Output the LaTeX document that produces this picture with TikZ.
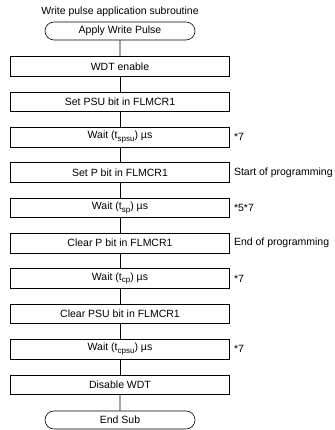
\documentclass[tikz,border=0pt]{standalone}
\usepackage{fontspec}
\setmainfont{Liberation Sans}
\usetikzlibrary{shapes.misc}
\newcommand{\tsub}[1]{\raisebox{-0.5ex}{\fontsize{8}{8}\selectfont #1}}

\begin{document}
\begin{tikzpicture}[x=1pt, y=1pt, node distance=35.36pt, font=\fontsize{10.5}{12}\selectfont,
        proc/.style={draw, line width=0.6pt, minimum width=219pt, minimum height=19.5pt, inner sep=0pt},
        term/.style={draw, line width=0.6pt, rounded rectangle, minimum width=150pt, minimum height=18pt, inner sep=0pt},
        note/.style={anchor=west, inner sep=0pt, xshift=4pt}]
        \useasboundingbox (0,0) rectangle (334,-430);
        \node (Apply) [term] at (120,-31) {Apply Write Pulse};
        \node (Title) [above of=Apply, node distance=19pt] {Write pulse application subroutine};
        \node (WdtOn) [below of=Apply, proc] {WDT enable};
        \node (SetPsu) [below of=WdtOn, proc] {Set PSU bit in FLMCR1};
        \node (WaitSpsu) [below of=SetPsu, proc] {Wait (t\tsub{spsu}) µs};
        \node (SetP) [below of=WaitSpsu, proc] {Set P bit in FLMCR1};
        \node (WaitSp) [below of=SetP, proc] {Wait (t\tsub{sp}) µs};
        \node (ClrP) [below of=WaitSp, proc] {Clear P bit in FLMCR1};
        \node (WaitCp) [below of=ClrP, proc] {Wait (t\tsub{cp}) µs};
        \node (ClrPsu) [below of=WaitCp, proc] {Clear PSU bit in FLMCR1};
        \node (WaitCpsu) [below of=ClrPsu, proc] {Wait (t\tsub{cpsu}) µs};
        \node (WdtOff) [below of=WaitCpsu, proc] {Disable WDT};
        \node (End) [below of=WdtOff, term] {End Sub};
        \node (NoteSpsu) [note] at (WaitSpsu.east) {*7};
        \node (NoteSetP) [note] at (SetP.east) {Start of programming};
        \node (NoteSp) [note] at (WaitSp.east) {*5*7};
        \node (NoteClrP) [note] at (ClrP.east) {End of programming};
        \node (NoteCp) [note] at (WaitCp.east) {*7};
        \node (NoteCpsu) [note] at (WaitCpsu.east) {*7};
        \draw [line width=0.6pt] (Apply) -- (WdtOn);
        \draw [line width=0.6pt] (WdtOn) -- (SetPsu);
        \draw [line width=0.6pt] (SetPsu) -- (WaitSpsu);
        \draw [line width=0.6pt] (WaitSpsu) -- (SetP);
        \draw [line width=0.6pt] (SetP) -- (WaitSp);
        \draw [line width=0.6pt] (WaitSp) -- (ClrP);
        \draw [line width=0.6pt] (ClrP) -- (WaitCp);
        \draw [line width=0.6pt] (WaitCp) -- (ClrPsu);
        \draw [line width=0.6pt] (ClrPsu) -- (WaitCpsu);
        \draw [line width=0.6pt] (WaitCpsu) -- (WdtOff);
        \draw [line width=0.6pt] (WdtOff) -- (End);
    \end{tikzpicture}
\end{document}
